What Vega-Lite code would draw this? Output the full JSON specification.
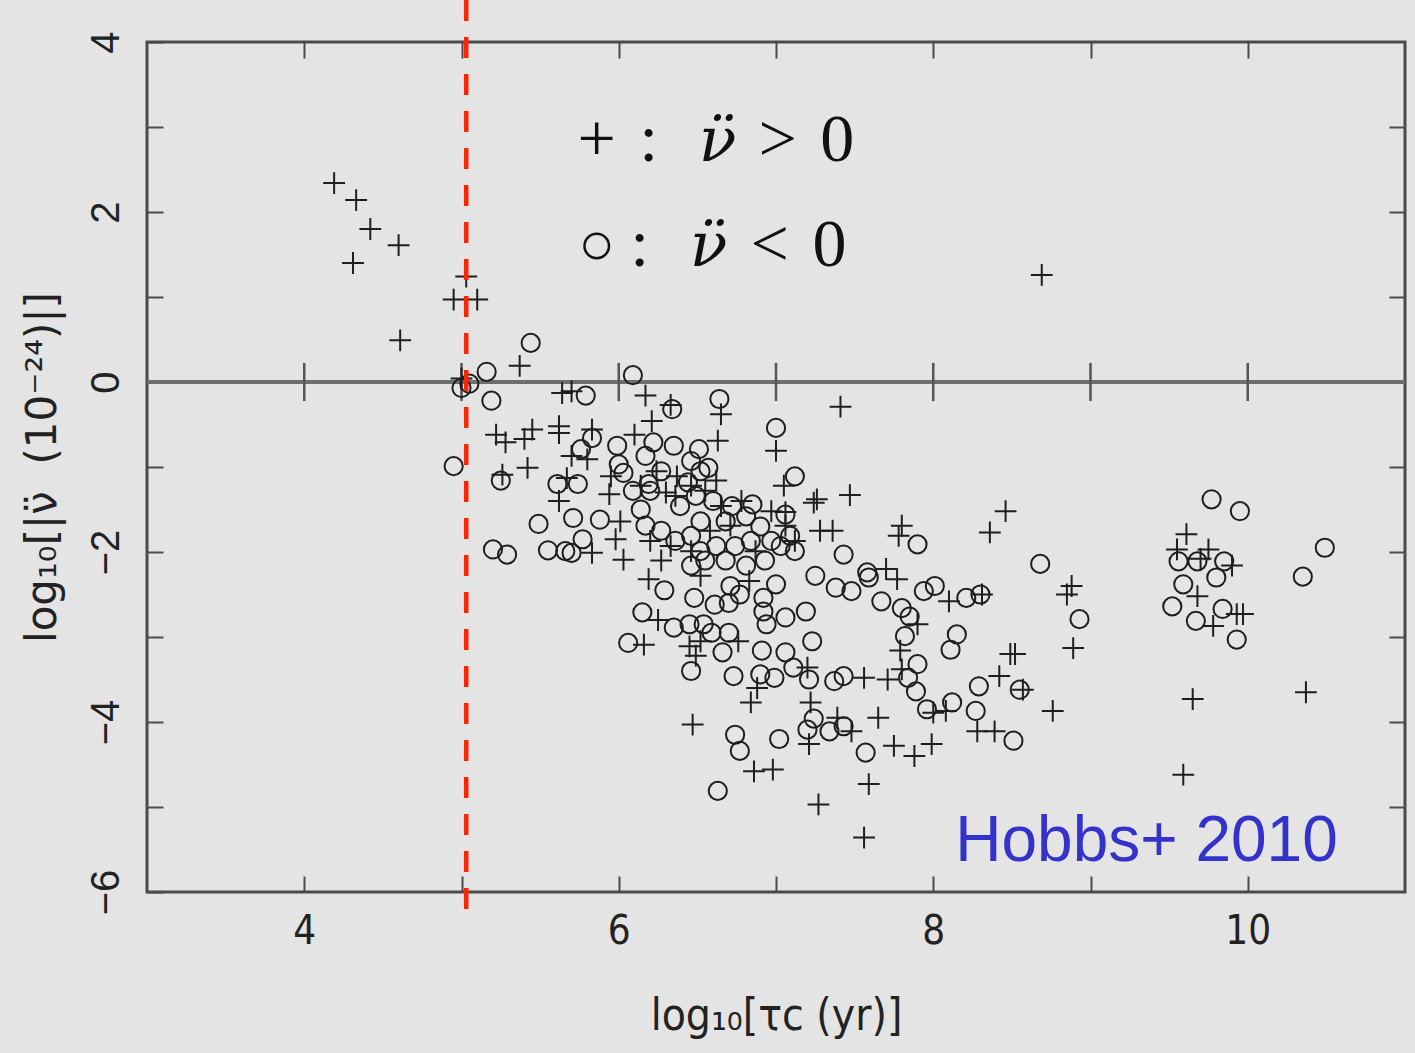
{
  "$schema": "https://vega.github.io/schema/vega-lite/v6.json",
  "autosize": "none",
  "width": 1258,
  "height": 850,
  "padding": {"left": 147, "top": 42, "right": 10, "bottom": 161},
  "background": "#e4e4e4",
  "config": {
    "view": {"stroke": "#4a4a4a", "strokeWidth": 3},
    "axis": {"grid": false, "domain": false},
    "text": {"font": "Liberation Serif", "fontSize": 68, "align": "center", "baseline": "alphabetic", "color": "#111111"}
  },
  "datasets": {
    "pulsars": [
      {"t":4.19,"n":2.34,"s":"p"},{"t":4.33,"n":2.14,"s":"p"},{"t":4.42,"n":1.80,"s":"p"},{"t":4.60,"n":1.61,"s":"p"},
      {"t":4.31,"n":1.40,"s":"p"},{"t":5.03,"n":1.24,"s":"p"},{"t":4.95,"n":0.97,"s":"p"},{"t":5.10,"n":0.97,"s":"p"},
      {"t":4.61,"n":0.49,"s":"p"},{"t":5.00,"n":0.04,"s":"p"},{"t":5.00,"n":-0.07,"s":"m"},{"t":5.05,"n":-0.02,"s":"m"},
      {"t":4.95,"n":-0.99,"s":"m"},{"t":8.69,"n":1.26,"s":"p"},
      {"t":5.44,"n":0.46,"s":"m"},{"t":5.16,"n":0.12,"s":"m"},{"t":5.37,"n":0.19,"s":"p"},{"t":5.19,"n":-0.22,"s":"m"},
      {"t":6.09,"n":0.08,"s":"m"},{"t":5.64,"n":-0.13,"s":"p"},{"t":5.70,"n":-0.11,"s":"p"},{"t":5.79,"n":-0.16,"s":"m"},
      {"t":6.17,"n":-0.16,"s":"p"},{"t":5.22,"n":-0.62,"s":"p"},{"t":5.28,"n":-0.71,"s":"p"},{"t":5.40,"n":-0.67,"s":"p"},
      {"t":5.45,"n":-0.56,"s":"p"},{"t":5.62,"n":-0.52,"s":"p"},{"t":5.62,"n":-0.60,"s":"p"},{"t":5.83,"n":-0.56,"s":"p"},
      {"t":5.83,"n":-0.66,"s":"m"},{"t":5.76,"n":-0.79,"s":"m"},{"t":5.70,"n":-0.87,"s":"p"},{"t":5.80,"n":-0.91,"s":"p"},
      {"t":6.10,"n":-0.62,"s":"p"},{"t":5.99,"n":-0.75,"s":"m"},{"t":6.00,"n":-0.97,"s":"m"},{"t":6.03,"n":-1.07,"s":"m"},
      {"t":5.95,"n":-1.11,"s":"p"},{"t":5.42,"n":-1.01,"s":"p"},{"t":5.25,"n":-1.16,"s":"m"},{"t":5.26,"n":-1.09,"s":"p"},
      {"t":5.61,"n":-1.20,"s":"m"},{"t":5.74,"n":-1.20,"s":"m"},{"t":5.67,"n":-1.13,"s":"p"},{"t":5.62,"n":-1.40,"s":"p"},
      {"t":6.09,"n":-1.28,"s":"m"},{"t":5.94,"n":-1.32,"s":"p"},{"t":5.49,"n":-1.67,"s":"m"},{"t":5.71,"n":-1.60,"s":"m"},
      {"t":5.88,"n":-1.62,"s":"m"},{"t":6.01,"n":-1.64,"s":"p"},{"t":6.14,"n":-1.50,"s":"m"},
      {"t":5.20,"n":-1.97,"s":"m"},{"t":5.29,"n":-2.03,"s":"m"},{"t":5.55,"n":-1.98,"s":"m"},{"t":5.66,"n":-1.99,"s":"m"},
      {"t":5.70,"n":-2.01,"s":"m"},{"t":5.77,"n":-1.85,"s":"m"},{"t":5.83,"n":-2.01,"s":"p"},{"t":6.03,"n":-2.09,"s":"p"},
      {"t":5.98,"n":-1.85,"s":"p"},{"t":6.19,"n":-2.32,"s":"p"},{"t":6.15,"n":-2.71,"s":"m"},{"t":6.06,"n":-3.07,"s":"m"},
      {"t":6.16,"n":-3.09,"s":"p"},
      {"t":6.34,"n":-0.32,"s":"m"},{"t":6.33,"n":-0.27,"s":"p"},{"t":6.64,"n":-0.20,"s":"m"},{"t":6.65,"n":-0.38,"s":"p"},
      {"t":7.00,"n":-0.54,"s":"m"},{"t":7.00,"n":-0.81,"s":"p"},{"t":6.63,"n":-0.69,"s":"p"},{"t":6.21,"n":-0.46,"s":"p"},
      {"t":6.35,"n":-0.75,"s":"m"},{"t":6.51,"n":-0.79,"s":"m"},{"t":6.22,"n":-0.71,"s":"m"},{"t":7.12,"n":-1.11,"s":"m"},
      {"t":7.05,"n":-1.22,"s":"p"},{"t":6.37,"n":-1.11,"s":"p"},{"t":6.44,"n":-1.18,"s":"m"},{"t":6.57,"n":-1.01,"s":"m"},
      {"t":6.19,"n":-1.20,"s":"m"},{"t":6.85,"n":-1.44,"s":"m"},{"t":7.06,"n":-1.56,"s":"m"},{"t":7.06,"n":-1.53,"s":"p"},
      {"t":7.24,"n":-1.42,"s":"p"},
      {"t":6.29,"n":-2.45,"s":"m"},{"t":6.48,"n":-2.54,"s":"m"},{"t":6.61,"n":-2.62,"s":"m"},{"t":6.70,"n":-2.60,"s":"m"},
      {"t":6.77,"n":-2.50,"s":"m"},{"t":6.71,"n":-2.40,"s":"m"},{"t":6.83,"n":-2.34,"s":"p"},{"t":7.00,"n":-2.38,"s":"m"},
      {"t":6.25,"n":-2.80,"s":"p"},{"t":6.35,"n":-2.89,"s":"m"},{"t":6.45,"n":-2.85,"s":"m"},{"t":6.54,"n":-2.85,"s":"m"},
      {"t":6.59,"n":-2.95,"s":"m"},{"t":6.70,"n":-2.95,"s":"m"},{"t":6.52,"n":-3.05,"s":"p"},{"t":6.76,"n":-3.05,"s":"p"},
      {"t":6.45,"n":-3.11,"s":"p"},{"t":6.49,"n":-3.22,"s":"p"},{"t":6.66,"n":-3.18,"s":"m"},{"t":6.46,"n":-3.40,"s":"m"},
      {"t":6.73,"n":-3.46,"s":"m"},{"t":6.91,"n":-3.16,"s":"m"},{"t":6.90,"n":-3.44,"s":"m"},{"t":6.88,"n":-3.60,"s":"p"},
      {"t":6.99,"n":-3.48,"s":"m"},{"t":6.92,"n":-2.70,"s":"m"},{"t":6.94,"n":-2.85,"s":"m"},{"t":7.06,"n":-2.77,"s":"m"},
      {"t":7.19,"n":-2.70,"s":"m"},{"t":7.23,"n":-3.05,"s":"m"},{"t":7.11,"n":-3.36,"s":"m"},{"t":7.21,"n":-3.50,"s":"m"},
      {"t":7.06,"n":-3.18,"s":"m"},{"t":6.92,"n":-2.54,"s":"m"},{"t":6.84,"n":-3.77,"s":"p"},{"t":7.20,"n":-3.36,"s":"p"},
      {"t":7.22,"n":-3.77,"s":"p"},{"t":6.47,"n":-4.03,"s":"p"},{"t":6.74,"n":-4.15,"s":"m"},{"t":6.77,"n":-4.34,"s":"m"},
      {"t":7.02,"n":-4.20,"s":"m"},{"t":7.20,"n":-4.09,"s":"m"},{"t":7.24,"n":-3.96,"s":"m"},{"t":7.21,"n":-4.26,"s":"p"},
      {"t":6.86,"n":-4.58,"s":"p"},{"t":6.98,"n":-4.56,"s":"p"},{"t":6.63,"n":-4.81,"s":"m"},{"t":7.27,"n":-4.97,"s":"p"},
      {"t":7.41,"n":-0.29,"s":"p"},{"t":7.47,"n":-1.33,"s":"p"},{"t":7.26,"n":-1.38,"s":"p"},{"t":7.28,"n":-1.75,"s":"p"},
      {"t":7.36,"n":-1.75,"s":"p"},{"t":7.80,"n":-1.69,"s":"p"},{"t":7.78,"n":-1.81,"s":"p"},{"t":7.90,"n":-1.91,"s":"m"},
      {"t":8.36,"n":-1.77,"s":"p"},{"t":7.43,"n":-2.03,"s":"m"},{"t":7.58,"n":-2.24,"s":"m"},{"t":7.70,"n":-2.20,"s":"p"},
      {"t":7.25,"n":-2.28,"s":"m"},{"t":7.38,"n":-2.42,"s":"m"},{"t":7.48,"n":-2.46,"s":"m"},{"t":7.59,"n":-2.30,"s":"m"},
      {"t":7.67,"n":-2.58,"s":"m"},{"t":7.77,"n":-2.32,"s":"p"},{"t":7.94,"n":-2.46,"s":"m"},{"t":8.01,"n":-2.40,"s":"m"},
      {"t":8.10,"n":-2.58,"s":"p"},{"t":8.21,"n":-2.54,"s":"m"},{"t":8.30,"n":-2.50,"s":"m"},{"t":8.31,"n":-2.50,"s":"p"},
      {"t":7.80,"n":-2.66,"s":"m"},{"t":7.85,"n":-2.76,"s":"m"},{"t":7.90,"n":-2.85,"s":"p"},{"t":7.82,"n":-2.99,"s":"m"},
      {"t":8.15,"n":-2.97,"s":"m"},{"t":8.11,"n":-3.15,"s":"m"},{"t":7.79,"n":-3.16,"s":"p"},{"t":7.90,"n":-3.32,"s":"m"},
      {"t":7.80,"n":-3.38,"s":"p"},{"t":7.71,"n":-3.50,"s":"p"},{"t":7.84,"n":-3.48,"s":"m"},{"t":7.89,"n":-3.64,"s":"m"},
      {"t":7.56,"n":-3.48,"s":"p"},{"t":7.37,"n":-3.52,"s":"m"},{"t":7.43,"n":-3.46,"s":"m"},{"t":7.96,"n":-3.85,"s":"m"},
      {"t":8.00,"n":-3.89,"s":"p"},{"t":8.08,"n":-3.87,"s":"p"},{"t":8.12,"n":-3.77,"s":"m"},{"t":8.29,"n":-3.58,"s":"m"},
      {"t":8.27,"n":-3.87,"s":"m"},{"t":8.28,"n":-4.11,"s":"p"},{"t":8.39,"n":-4.11,"s":"p"},{"t":8.42,"n":-3.46,"s":"p"},
      {"t":7.65,"n":-3.95,"s":"p"},{"t":7.75,"n":-4.28,"s":"p"},{"t":7.88,"n":-4.40,"s":"p"},{"t":7.99,"n":-4.26,"s":"p"},
      {"t":7.57,"n":-4.36,"s":"m"},{"t":7.39,"n":-3.95,"s":"p"},{"t":7.34,"n":-4.11,"s":"m"},{"t":7.43,"n":-4.05,"s":"m"},
      {"t":7.48,"n":-4.11,"s":"p"},{"t":7.59,"n":-4.73,"s":"p"},{"t":7.56,"n":-5.36,"s":"p"},
      {"t":8.46,"n":-1.52,"s":"p"},{"t":8.68,"n":-2.14,"s":"m"},{"t":8.88,"n":-2.40,"s":"p"},{"t":8.85,"n":-2.50,"s":"p"},
      {"t":8.93,"n":-2.79,"s":"m"},{"t":8.89,"n":-3.13,"s":"p"},{"t":8.49,"n":-3.20,"s":"p"},{"t":8.52,"n":-3.20,"s":"p"},
      {"t":8.55,"n":-3.62,"s":"m"},{"t":8.57,"n":-3.62,"s":"p"},{"t":8.76,"n":-3.87,"s":"p"},{"t":8.51,"n":-4.22,"s":"m"},
      {"t":9.77,"n":-1.38,"s":"m"},{"t":9.95,"n":-1.52,"s":"m"},{"t":9.61,"n":-1.79,"s":"p"},{"t":9.55,"n":-1.97,"s":"p"},
      {"t":9.75,"n":-1.97,"s":"p"},{"t":9.56,"n":-2.11,"s":"m"},{"t":9.68,"n":-2.11,"s":"m"},{"t":9.70,"n":-2.08,"s":"p"},
      {"t":9.85,"n":-2.11,"s":"m"},{"t":9.90,"n":-2.16,"s":"p"},{"t":9.80,"n":-2.30,"s":"m"},{"t":9.59,"n":-2.38,"s":"m"},
      {"t":9.68,"n":-2.52,"s":"p"},{"t":9.52,"n":-2.64,"s":"m"},{"t":9.84,"n":-2.67,"s":"m"},{"t":9.97,"n":-2.73,"s":"p"},
      {"t":9.93,"n":-2.73,"s":"p"},{"t":9.67,"n":-2.81,"s":"m"},{"t":9.78,"n":-2.87,"s":"p"},{"t":9.93,"n":-3.03,"s":"m"},
      {"t":10.49,"n":-1.95,"s":"m"},{"t":10.35,"n":-2.29,"s":"m"},{"t":10.37,"n":-3.65,"s":"p"},{"t":9.65,"n":-3.73,"s":"p"},
      {"t":9.59,"n":-4.62,"s":"p"},
      {"t":6.17,"n":-0.87,"s":"m"},{"t":6.27,"n":-1.05,"s":"m"},{"t":6.46,"n":-0.93,"s":"m"},{"t":6.52,"n":-1.05,"s":"m"},
      {"t":6.20,"n":-1.28,"s":"m"},{"t":6.30,"n":-1.30,"s":"p"},{"t":6.39,"n":-1.46,"s":"m"},{"t":6.49,"n":-1.34,"s":"m"},
      {"t":6.60,"n":-1.40,"s":"m"},{"t":6.72,"n":-1.46,"s":"m"},{"t":6.68,"n":-1.64,"s":"m"},{"t":6.52,"n":-1.64,"s":"m"},
      {"t":6.46,"n":-1.81,"s":"m"},{"t":6.36,"n":-1.87,"s":"m"},{"t":6.27,"n":-1.75,"s":"m"},{"t":6.17,"n":-1.69,"s":"m"},
      {"t":6.52,"n":-1.99,"s":"m"},{"t":6.62,"n":-1.93,"s":"m"},{"t":6.74,"n":-1.93,"s":"m"},{"t":6.84,"n":-1.87,"s":"m"},
      {"t":6.81,"n":-1.58,"s":"m"},{"t":6.90,"n":-1.70,"s":"m"},{"t":6.97,"n":-1.87,"s":"m"},{"t":7.03,"n":-1.93,"s":"m"},
      {"t":7.09,"n":-1.81,"s":"m"},{"t":7.12,"n":-1.99,"s":"m"},{"t":6.93,"n":-2.10,"s":"m"},{"t":6.81,"n":-2.16,"s":"m"},
      {"t":6.68,"n":-2.10,"s":"m"},{"t":6.55,"n":-2.10,"s":"m"},{"t":6.46,"n":-2.16,"s":"m"},
      {"t":6.24,"n":-1.05,"s":"p"},{"t":6.14,"n":-1.22,"s":"p"},{"t":6.36,"n":-1.34,"s":"p"},{"t":6.46,"n":-1.22,"s":"p"},
      {"t":6.55,"n":-1.28,"s":"p"},{"t":6.62,"n":-1.16,"s":"p"},{"t":6.65,"n":-1.46,"s":"p"},{"t":6.78,"n":-1.40,"s":"p"},
      {"t":6.71,"n":-1.69,"s":"p"},{"t":6.20,"n":-1.87,"s":"p"},{"t":6.33,"n":-1.93,"s":"p"},{"t":6.46,"n":-1.99,"s":"p"},
      {"t":6.58,"n":-1.75,"s":"p"},{"t":6.87,"n":-1.99,"s":"p"},{"t":6.97,"n":-1.52,"s":"p"},{"t":7.06,"n":-1.69,"s":"p"},
      {"t":7.12,"n":-1.87,"s":"p"},{"t":6.27,"n":-2.10,"s":"p"},{"t":6.52,"n":-2.28,"s":"p"}
    ],
    "zeroTicks": [{"t":4},{"t":5},{"t":6},{"t":7},{"t":8},{"t":9},{"t":10}],
    "one": [{}]
  },
  "layer": [
    {
      "description": "horizontal reference line at zero",
      "data": {"name": "one"},
      "mark": {"type": "rule", "color": "#6e6e6e", "strokeWidth": 4},
      "encoding": {"y": {"datum": 0, "type": "quantitative", "axis": null}}
    },
    {
      "description": "ticks crossing the zero line",
      "data": {"name": "zeroTicks"},
      "mark": {"type": "rule", "color": "#555555", "strokeWidth": 2.5},
      "encoding": {
        "x": {"field": "t", "type": "quantitative", "axis": null},
        "y": {"datum": 0.224, "type": "quantitative", "axis": null},
        "y2": {"datum": -0.224}
      }
    },
    {
      "description": "top and right frame ticks",
      "data": {"name": "pulsars"},
      "mark": {"type": "point", "opacity": 0},
      "encoding": {
        "x": {"field": "t", "type": "quantitative",
              "axis": {"orient": "top", "values": [4,5,6,7,8,9,10], "labels": false, "title": null,
                       "tickSize": -16, "tickWidth": 2, "tickColor": "#4a4a4a"}},
        "y": {"field": "n", "type": "quantitative",
              "axis": {"orient": "right", "values": [-5,-4,-3,-2,-1,0,1,2,3], "labels": false, "title": null,
                       "tickSize": -16, "tickWidth": 2, "tickColor": "#4a4a4a"}}
      }
    },
    {
      "description": "pulsars: plus for positive, circle for negative second derivative",
      "data": {"name": "pulsars"},
      "mark": {"type": "point", "filled": false, "strokeWidth": 2, "opacity": 1, "size": 330},
      "encoding": {
        "x": {"field": "t", "type": "quantitative",
              "scale": {"domain": [3, 11], "nice": false, "zero": false},
              "axis": {"orient": "bottom", "values": [4,5,6,7,8,9,10],
                       "labelExpr": "datum.value % 2 == 0 ? datum.label : ''",
                       "tickSize": -16, "tickWidth": 2, "tickColor": "#4a4a4a",
                       "labelFont": "DejaVu Sans Condensed, Liberation Sans, sans-serif", "labelFontSize": 40, "labelColor": "#222222",
                       "labelPadding": 35, "labelFlush": false,
                       "title": "log₁₀[τc (yr)]", "titleFont": "DejaVu Sans Condensed, Liberation Sans, sans-serif", "titleFontSize": 44,
                       "titleFontWeight": "normal", "titleColor": "#222222", "titlePadding": 43}},
        "y": {"field": "n", "type": "quantitative",
              "scale": {"domain": [-6, 4], "nice": false, "zero": false},
              "axis": {"orient": "left", "values": [-6,-5,-4,-3,-2,-1,0,1,2,3,4],
                       "labelExpr": "datum.value % 2 == 0 ? datum.label : ''",
                       "tickSize": -16, "tickWidth": 2, "tickColor": "#4a4a4a",
                       "labelFont": "Liberation Sans", "labelFontSize": 40, "labelColor": "#222222",
                       "labelAngle": -90, "labelAlign": "center", "labelBaseline": "alphabetic",
                       "labelPadding": 45, "labelFlush": false, "labelOverlap": false,
                       "title": "log₁₀[|ν̈\u00a0\u00a0(10⁻²⁴)|]", "titleFont": "DejaVu Sans", "titleFontSize": 42,
                       "titleFontWeight": "normal", "titleColor": "#222222", "titlePadding": 22}},
        "shape": {"field": "s", "type": "nominal", "legend": null,
                  "scale": {"domain": ["p", "m"], "range": ["M-1.2,0H1.2M0,-1.2V1.2", "circle"]}},
        "color": {"value": "#1e1e1e"}
      }
    },
    {
      "description": "red dashed marker",
      "data": {"name": "one"},
      "mark": {"type": "rule", "color": "#ff2400", "strokeWidth": 4.5, "strokeDash": [21, 16], "clip": false},
      "encoding": {
        "x": {"datum": 5.03, "type": "quantitative", "axis": null},
        "y": {"datum": 4.494, "type": "quantitative", "axis": null},
        "y2": {"datum": -6.353}
      }
    },
    {
      "description": "key, first line",
      "data": {"name": "one"},
      "encoding": {"y": {"datum": 2.6, "type": "quantitative", "axis": null}},
      "layer": [
        {"mark": {"type": "text", "text": "+"}, "encoding": {"x": {"datum": 5.86, "type": "quantitative", "axis": null}}},
        {"mark": {"type": "text", "text": ":"}, "encoding": {"x": {"datum": 6.19, "type": "quantitative", "axis": null}}},
        {"mark": {"type": "text", "text": "ν̈", "font": "DejaVu Serif", "fontStyle": "italic", "fontSize": 62}, "encoding": {"x": {"datum": 6.629, "type": "quantitative", "axis": null}}},
        {"mark": {"type": "text", "text": ">"}, "encoding": {"x": {"datum": 7.01, "type": "quantitative", "axis": null}}},
        {"mark": {"type": "text", "text": "0"}, "encoding": {"x": {"datum": 7.39, "type": "quantitative", "axis": null}}}
      ]
    },
    {
      "description": "key, second line",
      "data": {"name": "one"},
      "layer": [
        {"mark": {"type": "point", "shape": "circle", "filled": false, "size": 600, "strokeWidth": 2.5, "color": "#111111", "opacity": 1},
         "encoding": {"x": {"datum": 5.86, "type": "quantitative", "axis": null}, "y": {"datum": 1.6, "type": "quantitative", "axis": null}}},
        {"mark": {"type": "text", "text": ":"}, "encoding": {"x": {"datum": 6.133, "type": "quantitative", "axis": null}, "y": {"datum": 1.365, "type": "quantitative", "axis": null}}},
        {"mark": {"type": "text", "text": "ν̈", "font": "DejaVu Serif", "fontStyle": "italic", "fontSize": 62}, "encoding": {"x": {"datum": 6.571, "type": "quantitative", "axis": null}, "y": {"datum": 1.365, "type": "quantitative", "axis": null}}},
        {"mark": {"type": "text", "text": "<"}, "encoding": {"x": {"datum": 6.959, "type": "quantitative", "axis": null}, "y": {"datum": 1.365, "type": "quantitative", "axis": null}}},
        {"mark": {"type": "text", "text": "0"}, "encoding": {"x": {"datum": 7.34, "type": "quantitative", "axis": null}, "y": {"datum": 1.365, "type": "quantitative", "axis": null}}}
      ]
    },
    {
      "data": {"name": "one"},
      "mark": {"type": "text", "text": "Hobbs+ 2010", "font": "Liberation Sans", "fontSize": 64, "align": "left", "baseline": "alphabetic", "color": "#3333cc"},
      "encoding": {"x": {"datum": 8.14, "type": "quantitative", "axis": null}, "y": {"datum": -5.635, "type": "quantitative", "axis": null}}
    }
  ],
  "resolve": {"axis": {"x": "independent", "y": "independent"}}
}
